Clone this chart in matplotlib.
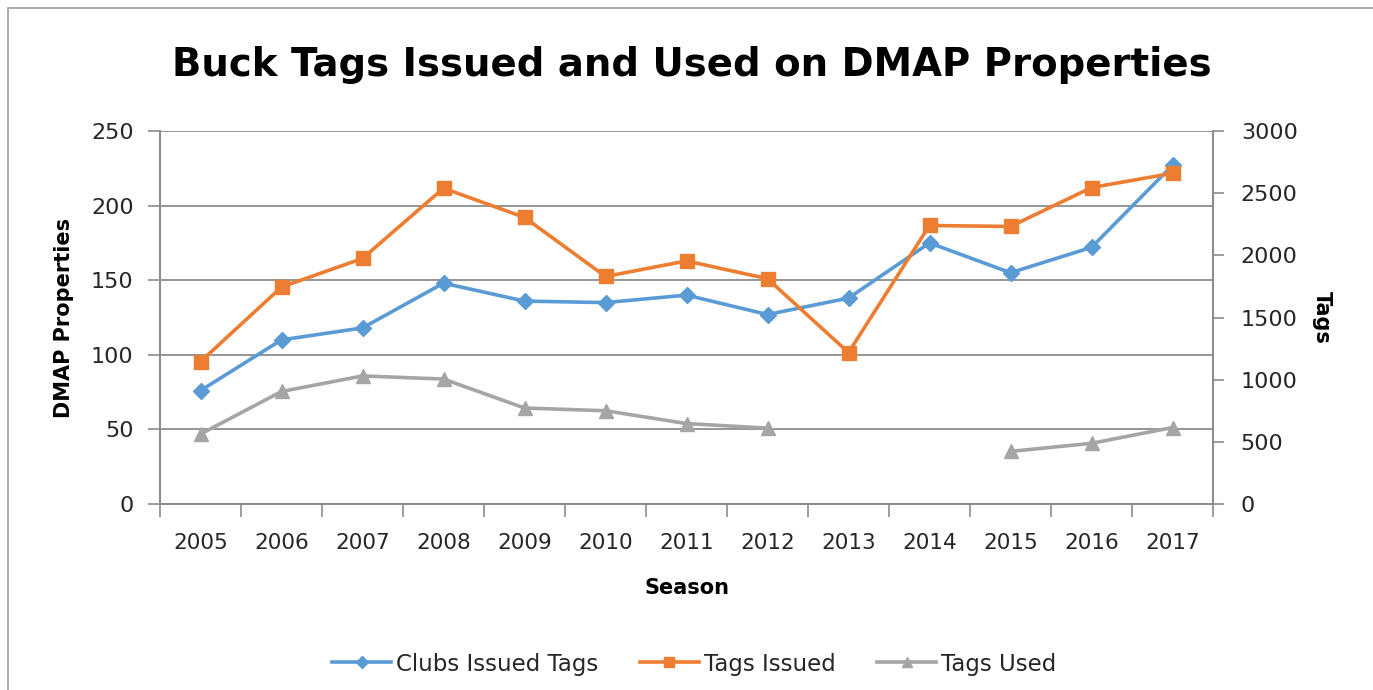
import matplotlib
matplotlib.use('Agg')
import matplotlib.pyplot as plt
import numpy as np
from matplotlib.patches import Rectangle

plt.rcParams['font.family'] = ['DejaVu Sans']

seasons = ['2005', '2006', '2007', '2008', '2009', '2010', '2011',
           '2012', '2013', '2014', '2015', '2016', '2017']
clubs_issued = [76, 110, 118, 148, 136, 135, 140, 127, 138, 175, 155, 172, 227]
tags_issued = [1145, 1745, 1975, 2540, 2305, 1830, 1955, 1812, 1218, 2240, 2232, 2545, 2660]
tags_used = [562, 905, 1030, 1005, 772, 750, 647, 610, np.nan, np.nan, 423, 488, 615]

BLUE = '#5B9BD5'
ORANGE = '#ED7D31'
GRAY = '#A5A5A5'
AXC = '#8c8c8c'
TXT = '#262626'

fig = plt.figure(figsize=(13.73, 6.9), dpi=100)
fig.patches.append(Rectangle((8/1373, -0.1), 1.2, 1 - 8/690 + 0.1, transform=fig.transFigure,
                             fill=False, edgecolor='#a0a0a0', lw=1.2))

ax = fig.add_axes([160/1373, 1 - 504/690, (1213-160)/1373, (504-131)/690])
ax2 = ax.twinx()

x = np.arange(len(seasons))
l1, = ax.plot(x, clubs_issued, color=BLUE, lw=2.6, marker='D', ms=8, label='Clubs Issued Tags', zorder=3)
l2, = ax2.plot(x, tags_issued, color=ORANGE, lw=2.6, marker='s', ms=10, label='Tags Issued', zorder=3)
l3, = ax2.plot(x, tags_used, color=GRAY, lw=2.6, marker='^', ms=10, label='Tags Used', zorder=3)

ax.set_xlim(-0.5, len(seasons) - 0.5)
ax.set_ylim(0, 250)
ax2.set_ylim(0, 3000)
ax.set_yticks(np.arange(0, 251, 50))
ax2.set_yticks(np.arange(0, 3001, 500))
ax.set_xticks(x)
ax.set_xticklabels(seasons)
ax.set_xticks(np.arange(-0.5, len(seasons), 1), minor=True)
ax.tick_params(axis='x', which='major', length=0, pad=21, labelsize=15.5, labelcolor=TXT)
ax.tick_params(axis='x', which='minor', length=9, color=AXC, width=1.2)
ax.tick_params(axis='y', length=9, color=AXC, width=1.2, labelsize=16, pad=10, labelcolor=TXT)
ax2.tick_params(axis='y', length=8, color=AXC, width=1.2, labelsize=16, pad=12, labelcolor=TXT)

ax.grid(axis='y', color=AXC, lw=1.3)
ax.set_axisbelow(True)
for a in (ax, ax2):
    a.spines['top'].set_visible(False)
    for s in ['left', 'right', 'bottom']:
        a.spines[s].set_color(AXC)
        a.spines[s].set_linewidth(1.3)

ax.set_xlabel('Season', fontsize=15, fontweight='bold', labelpad=18)
ax.set_ylabel('DMAP Properties', fontsize=15, fontweight='bold', labelpad=12)
ax2.set_ylabel('Tags', fontsize=15, fontweight='bold', rotation=-90, labelpad=25)

fig.suptitle('Buck Tags Issued and Used on DMAP Properties', x=692/1373, y=1 - 65/690,
             va='center', fontsize=27.8, fontweight='bold')

fig.legend(handles=[l1, l2, l3], loc='center', bbox_to_anchor=(694/1373, 1 - 664/690),
           ncol=3, frameon=False, fontsize=16.5, handlelength=2.6, columnspacing=1.8,
           handletextpad=0.2, markerscale=0.75, labelcolor=TXT)

fig.savefig('out.png', dpi=100)
